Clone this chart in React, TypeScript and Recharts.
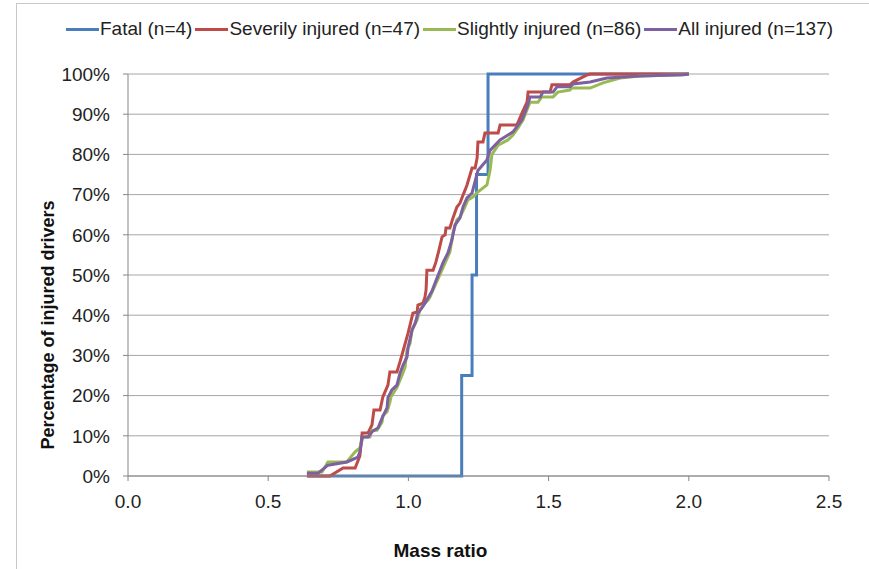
import React from 'react';
import { LineChart, Line, XAxis, YAxis, CartesianGrid } from 'recharts';

// mass ratio (x) vs cumulative percentage of drivers (y)
const fatal = [
  { x: 0.64, y: 0 }, { x: 1.19, y: 0 }, { x: 1.19, y: 25 }, { x: 1.227, y: 25 },
  { x: 1.227, y: 50 }, { x: 1.243, y: 50 }, { x: 1.243, y: 75 }, { x: 1.284, y: 75 },
  { x: 1.284, y: 100 }, { x: 2.0, y: 100 },
];

const severe = [
  { x: 0.638, y: 0 }, { x: 0.72, y: 0 }, { x: 0.767, y: 2 }, { x: 0.81, y: 2 },
  { x: 0.827, y: 5 }, { x: 0.835, y: 10.7 }, { x: 0.856, y: 10.7 }, { x: 0.87, y: 12.7 },
  { x: 0.877, y: 16.4 }, { x: 0.899, y: 16.4 }, { x: 0.909, y: 19.7 }, { x: 0.927, y: 22.6 },
  { x: 0.934, y: 25.9 }, { x: 0.959, y: 25.9 }, { x: 0.97, y: 28.4 }, { x: 0.977, y: 30.1 },
  { x: 0.999, y: 35.6 }, { x: 1.006, y: 37.6 }, { x: 1.016, y: 40.5 }, { x: 1.031, y: 40.8 },
  { x: 1.034, y: 42.5 }, { x: 1.052, y: 43.0 }, { x: 1.059, y: 44.5 }, { x: 1.063, y: 46.3 },
  { x: 1.066, y: 51.2 }, { x: 1.088, y: 51.2 }, { x: 1.098, y: 53.2 }, { x: 1.109, y: 56.2 },
  { x: 1.12, y: 59.5 }, { x: 1.131, y: 60.0 }, { x: 1.134, y: 61.7 }, { x: 1.148, y: 61.7 },
  { x: 1.159, y: 64.2 }, { x: 1.173, y: 66.9 }, { x: 1.184, y: 67.9 }, { x: 1.195, y: 69.9 },
  { x: 1.202, y: 71.1 }, { x: 1.209, y: 72.4 }, { x: 1.227, y: 76.6 }, { x: 1.238, y: 76.6 },
  { x: 1.245, y: 79.1 }, { x: 1.248, y: 83.1 }, { x: 1.266, y: 83.1 }, { x: 1.273, y: 85.3 },
  { x: 1.32, y: 85.3 }, { x: 1.327, y: 87.3 }, { x: 1.387, y: 87.3 }, { x: 1.405, y: 90.3 },
  { x: 1.423, y: 93.0 }, { x: 1.427, y: 95.5 }, { x: 1.505, y: 95.5 }, { x: 1.512, y: 97.3 },
  { x: 1.576, y: 97.3 }, { x: 1.587, y: 98.0 }, { x: 1.637, y: 99.75 }, { x: 1.648, y: 100 },
  { x: 2.0, y: 100 },
];

const slight = [
  { x: 0.638, y: 1 }, { x: 0.692, y: 1 }, { x: 0.713, y: 3.5 }, { x: 0.78, y: 3.5 },
  { x: 0.81, y: 6 }, { x: 0.827, y: 7 }, { x: 0.838, y: 9.7 }, { x: 0.863, y: 9.7 },
  { x: 0.87, y: 11.4 }, { x: 0.888, y: 11.4 }, { x: 0.906, y: 13.4 }, { x: 0.909, y: 15 },
  { x: 0.924, y: 16 }, { x: 0.934, y: 18.4 }, { x: 0.938, y: 19.7 }, { x: 0.959, y: 22 },
  { x: 0.977, y: 25 }, { x: 0.988, y: 27 }, { x: 0.995, y: 31.3 }, { x: 1.006, y: 33 },
  { x: 1.013, y: 36.3 }, { x: 1.031, y: 38.8 }, { x: 1.041, y: 41.3 }, { x: 1.059, y: 43 },
  { x: 1.07, y: 43.8 }, { x: 1.077, y: 44.5 }, { x: 1.088, y: 46.3 }, { x: 1.131, y: 53 },
  { x: 1.148, y: 55.7 }, { x: 1.159, y: 60.4 }, { x: 1.173, y: 63.7 }, { x: 1.184, y: 64.4 },
  { x: 1.202, y: 67 }, { x: 1.212, y: 68.7 }, { x: 1.23, y: 69.4 }, { x: 1.245, y: 70.5 },
  { x: 1.28, y: 72.4 }, { x: 1.291, y: 76 }, { x: 1.298, y: 80 }, { x: 1.32, y: 82.3 },
  { x: 1.355, y: 83.6 }, { x: 1.373, y: 84.8 }, { x: 1.391, y: 86.6 }, { x: 1.409, y: 88.6 },
  { x: 1.427, y: 91.8 }, { x: 1.434, y: 93 }, { x: 1.462, y: 93 }, { x: 1.476, y: 94.3 },
  { x: 1.516, y: 94.3 }, { x: 1.533, y: 95.5 }, { x: 1.576, y: 96 }, { x: 1.583, y: 96.5 },
  { x: 1.648, y: 96.5 }, { x: 1.694, y: 97.8 }, { x: 1.755, y: 99 }, { x: 1.826, y: 99.5 },
  { x: 1.979, y: 99.8 }, { x: 2.0, y: 100 },
];

const allInjured = [
  { x: 0.638, y: 0.7 }, { x: 0.678, y: 0.7 }, { x: 0.713, y: 2.7 }, { x: 0.781, y: 3.5 },
  { x: 0.82, y: 4.7 }, { x: 0.827, y: 6 }, { x: 0.835, y: 9.7 }, { x: 0.856, y: 9.7 },
  { x: 0.87, y: 11 }, { x: 0.892, y: 12 }, { x: 0.906, y: 14.4 }, { x: 0.924, y: 17 },
  { x: 0.927, y: 19.5 }, { x: 0.941, y: 21.4 }, { x: 0.959, y: 22.6 }, { x: 0.97, y: 25.6 },
  { x: 0.981, y: 27.6 }, { x: 0.995, y: 29.6 }, { x: 0.999, y: 32 }, { x: 1.013, y: 36.3 },
  { x: 1.024, y: 38 }, { x: 1.034, y: 40.5 }, { x: 1.048, y: 41.8 }, { x: 1.059, y: 43 },
  { x: 1.07, y: 44.3 }, { x: 1.084, y: 46 }, { x: 1.095, y: 48 }, { x: 1.113, y: 51.2 },
  { x: 1.123, y: 53 }, { x: 1.141, y: 55.5 }, { x: 1.155, y: 58.7 }, { x: 1.166, y: 62.4 },
  { x: 1.184, y: 64.2 }, { x: 1.195, y: 67 }, { x: 1.209, y: 69.2 }, { x: 1.227, y: 70.4 },
  { x: 1.248, y: 76 }, { x: 1.28, y: 78.6 }, { x: 1.291, y: 81 },
  { x: 1.327, y: 83.6 }, { x: 1.373, y: 85.6 }, { x: 1.405, y: 88.6 }, { x: 1.423, y: 91.8 },
  { x: 1.434, y: 94.3 }, { x: 1.47, y: 94.3 }, { x: 1.48, y: 95.5 }, { x: 1.516, y: 95.5 },
  { x: 1.53, y: 96.8 }, { x: 1.576, y: 96.8 }, { x: 1.587, y: 97.5 }, { x: 1.648, y: 98 },
  { x: 1.708, y: 99 }, { x: 1.826, y: 99.5 }, { x: 1.979, y: 99.8 }, { x: 2.0, y: 100 },
];

const seriesNames = ['Fatal (n=4)', 'Severily injured (n=47)', 'Slightly injured (n=86)', 'All injured (n=137)'];
const seriesColors = ['#4a7ebb', '#be4b48', '#98b954', '#7d60a0'];
const seriesData = [fatal, severe, slight, allInjured];

const xTicks = [0, 0.5, 1.0, 1.5, 2.0, 2.5];
const yTicks = [0, 10, 20, 30, 40, 50, 60, 70, 80, 90, 100];

const FONT = '"Liberation Sans", Arial, sans-serif';
const AXIS_GRAY = '#868686';

const Legend = () => (
  <div
    style={{
      position: 'absolute', left: 66, top: 18, display: 'flex', alignItems: 'center',
      fontFamily: FONT, fontSize: 19, color: '#222', whiteSpace: 'nowrap',
    }}
  >
    {seriesNames.map((name, i) => (
      <div key={name} style={{ display: 'flex', alignItems: 'center', marginRight: 3 }}>
        <span style={{ display: 'inline-block', width: 33, height: 3, background: seriesColors[i], marginRight: 1 }} />
        <span>{name}</span>
      </div>
    ))}
  </div>
);

export default function App() {
  return (
    <div style={{ position: 'absolute', left: 0, top: 0, width: 869, height: 569, background: '#fff', overflow: 'hidden' }}>
      <div style={{ position: 'absolute', left: 16, top: 3, right: -2, bottom: -2, borderTop: '1px solid #c8c8c8', borderLeft: '1px solid #c8c8c8' }} />
      <Legend />
      <LineChart width={869} height={569} margin={{ top: 74, right: 40, left: 0, bottom: 0 }} style={{ position: 'absolute', left: 0, top: 0 }}>
        <CartesianGrid vertical={false} stroke="#a6a6a6" horizontalValues={yTicks} />
        <XAxis
          type="number"
          dataKey="x"
          domain={[0, 2.5]}
          ticks={xTicks}
          tickFormatter={(v: number) => v.toFixed(1)}
          height={93}
          stroke={AXIS_GRAY}
          tickSize={5}
          tickMargin={14}
          tick={{ fill: '#222', fontSize: 19, fontFamily: FONT }}
          label={{ value: 'Mass ratio', position: 'insideBottom', offset: 12, dx: -38, fill: '#111', fontSize: 19, fontWeight: 'bold', fontFamily: FONT }}
        />
        <YAxis
          type="number"
          domain={[0, 100]}
          ticks={yTicks}
          tickFormatter={(v: number) => `${v}%`}
          width={128}
          stroke={AXIS_GRAY}
          tickSize={5}
          tickMargin={13}
          tick={{ fill: '#222', fontSize: 19, fontFamily: FONT }}
          label={{ value: 'Percentage of injured drivers', angle: -90, position: 'center', dx: -16, dy: 50, fill: '#111', fontSize: 18, fontWeight: 'bold', fontFamily: FONT }}
        />
        {seriesData.map((d, i) => (
          <Line
            key={seriesNames[i]}
            data={d}
            dataKey="y"
            name={seriesNames[i]}
            type="linear"
            stroke={seriesColors[i]}
            strokeWidth={3}
            dot={false}
            activeDot={false}
            isAnimationActive={false}
          />
        ))}
      </LineChart>
    </div>
  );
}
